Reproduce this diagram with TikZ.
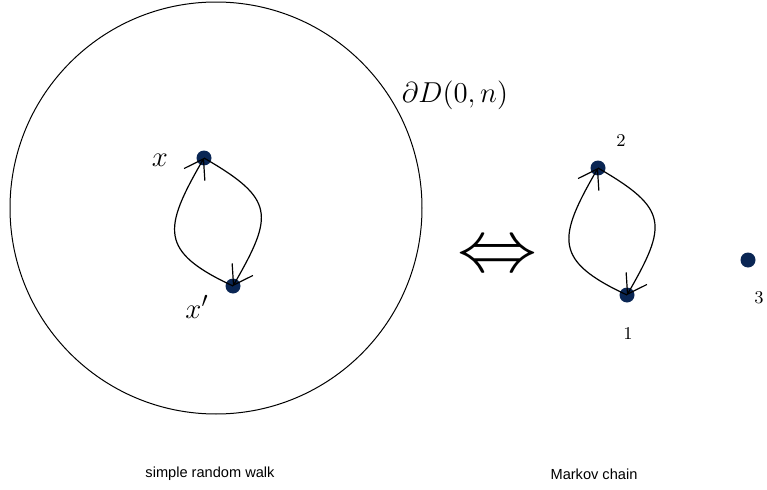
\documentclass[tikz,border=0pt]{standalone}
\usepackage{amsmath}
\usepackage{graphicx}
\usepackage{fontspec}
\newfontfamily\capfont{Liberation Sans}
\usepackage{tikz}
\usetikzlibrary{arrows.meta, positioning}
\definecolor{dotnavy}{RGB}{10,38,84}

\begin{document}
\begin{tikzpicture}[
  x=0.5pt, y=0.5pt,
  site/.style={circle, fill=dotnavy, inner sep=0pt, minimum size=7.5pt},
  mathlabel/.style={font=\fontsize{15}{18}\selectfont},
  numlabel/.style={font=\fontsize{9}{11}\selectfont},
  caption/.style={font=\capfont\fontsize{7.3}{9}\selectfont},
  jump/.style={-{Straight Barb[length=9pt, width=12pt, line width=0.6pt]}, line width=0.6pt, looseness=1.6}
]
\useasboundingbox (0,0) rectangle (767,489);

% disc and its boundary
\draw[line width=0.5pt] (216,281) circle[radius=206];
\node[mathlabel] (bd) at (455,394) {$\partial D(0,n)$};

% simple random walk
\node[site] (x)  at (204,331) {};
\node[site] (xp) at (233,203) {};
\node[mathlabel] (xlab)  at (160,329) {$x$};
\node[mathlabel] (xplab) at (197,182) {$x'$};
\draw[jump] (xp.center) to[out=155, in=-120] (x.center);
\draw[jump] (x.center) to[out=-30, in=60] (xp.center);

\node (equiv) at (497,231) {\resizebox{40pt}{13.5pt}{$\Leftrightarrow$}};

% Markov chain
\node[site] (s2) at (598,321) {};
\node[site] (s1) at (627,194) {};
\node[site] (s3) at (748,229) {};
\node[numlabel] (l2) at (621,348) {2};
\node[numlabel] (l1) at (628,155) {1};
\node[numlabel] (l3) at (759,191) {3};
\draw[jump] (s1.center) to[out=155, in=-120] (s2.center);
\draw[jump] (s2.center) to[out=-30, in=60] (s1.center);

\node[caption] (srw) at (210,15) {simple random walk};
\node[caption] (mc)  at (594,15) {Markov chain};
\end{tikzpicture}
\end{document}
